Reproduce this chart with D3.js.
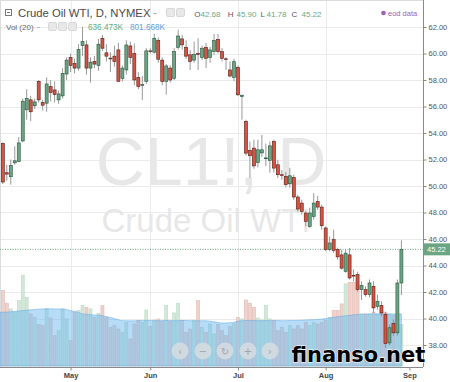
<!DOCTYPE html>
<html>
<head>
<meta charset="utf-8">
<script src="https://cdnjs.cloudflare.com/ajax/libs/d3/7.8.5/d3.min.js"></script>
<style>
  body { margin: 0; background: #fff; }
  svg { display: block; font-family: "Liberation Sans", Arial, sans-serif; }
</style>
</head>
<body>
<div id="chart"></div>
<script>
// daily candles, CL1! Apr - Aug 2015
var opens = [53.2, 51.0, 50.7, 51.75, 51.85, 53.4, 55.75, 56.5, 56.05, 57.9,
  56.3, 56.25, 57.5, 57.25, 56.5, 56.8, 58.45, 59.7, 59.25, 58.9,
  60.6, 60.65, 58.9, 59.4, 59.1, 61.15, 60.05, 59.65, 59.8, 60.27,
  58.13, 58.76, 60.57, 60.0, 58.2, 57.6, 57.9, 60.2, 60.1, 61.0,
  59.5, 57.9, 58.9, 58.13, 60.47, 61.1, 60.47, 59.9, 59.5, 60.0,
  59.7, 60.47, 59.7, 60.14, 61.07, 60.14, 59.6, 58.76, 58.2, 58.94,
  56.75, 54.87, 52.68, 52.86, 51.77, 52.5, 52.1, 51.93, 53.36, 51.6,
  50.85, 50.72, 50.17, 50.64, 49.17, 48.71, 47.96, 46.95, 47.7, 48.83,
  48.41, 46.83, 45.2, 45.95, 45.2, 44.8, 43.56, 44.8, 43.26, 43.31,
  42.18, 42.18, 41.8, 42.43, 40.92, 40.97, 40.3, 38.16, 39.62, 38.92,
  42.68];
var highs = [53.3, 51.6, 52.0, 53.0, 53.7, 56.6, 57.3, 56.8, 56.6, 58.0,
  56.5, 58.2, 58.0, 57.9, 57.2, 58.9, 59.7, 60.0, 59.6, 60.7,
  62.0, 61.0, 59.7, 59.8, 61.1, 61.4, 60.7, 60.1, 60.6, 60.8,
  59.1, 61.0, 60.9, 60.75, 58.6, 58.3, 60.4, 60.4, 61.5, 61.2,
  59.7, 59.2, 59.1, 60.4, 61.8, 61.4, 61.0, 60.27, 60.9, 61.15,
  60.6, 60.8, 60.5, 61.47, 61.47, 60.4, 59.7, 59.4, 59.6, 59.1,
  56.9, 55.0, 53.36, 53.5, 53.5, 53.86, 53.2, 53.36, 53.5, 51.98,
  51.2, 51.07, 51.37, 50.85, 49.34, 48.96, 48.1, 48.36, 49.47, 49.26,
  48.59, 46.95, 46.2, 46.7, 45.35, 45.2, 45.2, 45.32, 43.7, 43.54,
  42.8, 42.43, 42.94, 42.8, 41.8, 41.3, 40.52, 39.54, 39.92, 42.94,
  45.9];
var lows = [50.15, 50.4, 50.1, 51.6, 51.8, 53.3, 55.0, 54.9, 55.8, 56.3,
  55.7, 55.6, 56.4, 56.3, 56.2, 56.6, 58.0, 58.6, 58.5, 58.7,
  59.8, 58.4, 57.8, 58.9, 58.7, 60.2, 59.4, 58.6, 59.0, 57.9,
  57.9, 58.4, 59.2, 57.6, 57.3, 56.5, 57.7, 60.0, 60.0, 59.3,
  57.6, 56.9, 57.8, 58.0, 60.3, 60.3, 59.6, 58.76, 59.3, 58.76,
  59.5, 58.9, 59.3, 59.9, 60.0, 59.4, 58.76, 58.2, 57.9, 56.8,
  55.0, 52.3, 50.6, 51.3, 51.4, 52.2, 51.5, 51.0, 51.0, 50.6,
  50.47, 49.9, 49.87, 48.96, 48.06, 47.83, 46.95, 46.85, 47.46, 48.2,
  46.7, 45.07, 45.07, 44.95, 44.44, 43.7, 43.46, 42.94, 42.8, 42.03,
  41.4, 41.65, 41.6, 40.43, 40.67, 40.17, 37.79, 37.96, 38.7, 38.7,
  41.78];
var closes = [50.3, 50.9, 51.55, 51.9, 53.25, 56.4, 56.6, 55.6, 56.35, 56.5,
  56.1, 57.7, 57.05, 56.9, 56.95, 58.5, 59.5, 59.1, 58.9, 60.3,
  60.9, 58.9, 59.35, 59.2, 60.7, 60.4, 59.8, 59.6, 59.4, 57.9,
  58.9, 60.64, 59.7, 58.0, 57.5, 57.65, 60.2, 60.15, 61.15, 59.57,
  57.9, 59.06, 58.0, 60.14, 61.32, 60.65, 59.8, 59.4, 59.94, 59.94,
  60.4, 59.64, 60.27, 60.97, 60.14, 59.64, 59.55, 58.3, 59.38, 56.88,
  56.85, 52.48, 52.28, 51.52, 52.73, 52.73, 52.12, 53.03, 51.35, 50.85,
  50.8, 50.1, 50.77, 49.17, 48.26, 48.08, 47.33, 47.96, 48.71, 48.41,
  47.0, 45.2, 45.7, 45.14, 44.65, 43.8, 44.93, 43.06, 43.22, 42.18,
  42.48, 41.8, 42.68, 40.8, 41.3, 40.42, 38.11, 39.3, 38.92, 42.68,
  45.22];
// volume in thousands, and its 20-day average
var volumes = [1160, 966, 878, 832, 1006, 1391, 1058, 801, 750, 636,
  621, 878, 739, 467, 544, 878, 724, 390, 832, 852,
  929, 904, 878, 750, 812, 929, 750, 596, 621, 570,
  519, 673, 416, 647, 698, 673, 862, 605, 708, 724,
  688, 929, 688, 816, 966, 698, 519, 570, 698, 1006,
  596, 519, 647, 493, 636, 544, 467, 605, 650, 750,
  724, 1016, 966, 904, 739, 708, 929, 724, 698, 544,
  596, 519, 621, 570, 621, 570, 673, 621, 673, 647,
  673, 698, 750, 852, 852, 955, 1263, 1289, 1289, 1186,
  801, 801, 801, 827, 801, 852, 827, 801, 775, 724,
  636];
var volumeMA = [827, 830, 835, 840, 845, 852, 858, 865, 870, 875,
  878, 880, 880, 878, 878, 876, 870, 852, 840, 825,
  801, 796, 790, 785, 780, 775, 760, 745, 730, 712,
  698, 698, 695, 695, 698, 700, 702, 700, 698, 698,
  700, 702, 700, 698, 698, 700, 700, 698, 695, 695,
  698, 695, 690, 680, 670, 662, 662, 665, 675, 690,
  698, 700, 702, 700, 698, 698, 700, 698, 698, 700,
  698, 698, 700, 700, 702, 705, 708, 710, 712, 716,
  722, 730, 740, 750, 758, 765, 772, 780, 788, 793,
  796, 798, 800, 801, 801, 800, 800, 800, 801, 801,
  802];
var monthLabels = ["May", "Jun", "Jul", "Aug", "Sep"];
var monthStart = [17, 37, 59, 81, 102];   // bar index of first trading day
var priceTicks = [38, 40, 42, 44, 46, 48, 50, 52, 54, 56, 58, 60, 62];
var lastPrice = 45.22;

var width = 450, height = 382,
    plotRight = 423, plotBottom = 367;

var upFill = "#6ba583", upLine = "#225437",
    downFill = "#d75442", downLine = "#5b1a13";

var svg = d3.select("#chart")
  .append("svg")
    .attr("width", width)
    .attr("height", height);

var x = d3.scaleLinear()
  .domain([0, 100])
  .range([2.8, 401.4]);

var y = d3.scaleLinear()
  .domain([38, 62])
  .range([345, 27]);

var vy = d3.scaleLinear()
  .domain([0, 1000])
  .range([366, 301]);

// grid
svg.append("g")
  .selectAll("line")
  .data(priceTicks)
  .enter().append("line")
    .attr("x1", 0).attr("x2", plotRight)
    .attr("y1", function(d) { return Math.round(y(d)) + 0.5 })
    .attr("y2", function(d) { return Math.round(y(d)) + 0.5 })
    .attr("stroke", "#ebebeb");

svg.append("g")
  .selectAll("line")
  .data(monthStart.slice(0, 4))
  .enter().append("line")
    .attr("x1", function(d) { return Math.round(x(d)) + 0.5 })
    .attr("x2", function(d) { return Math.round(x(d)) + 0.5 })
    .attr("y1", 0).attr("y2", plotBottom)
    .attr("stroke", "#ebebeb");

// border lines
svg.append("line").attr("x1", 0).attr("x2", plotRight).attr("y1", 0.5).attr("y2", 0.5).attr("stroke", "#dcdcdc");
svg.append("line").attr("x1", 0.5).attr("x2", 0.5).attr("y1", 0).attr("y2", plotBottom).attr("stroke", "#dcdcdc");

// watermark
svg.append("text")
  .attr("x", 211).attr("y", 185)
  .attr("text-anchor", "middle")
  .attr("font-size", 68)
  .attr("fill", "#e7e7e7")
  .text("CL1!, D");
svg.append("text")
  .attr("x", 206).attr("y", 232)
  .attr("text-anchor", "middle")
  .attr("font-size", 33)
  .attr("fill", "#e7e7e7")
  .text("Crude Oil WTI");

var idx = d3.range(opens.length);

// volume bars
svg.append("g")
  .selectAll("rect")
  .data(idx)
  .enter().append("rect")
    .attr("x", function(i) { return x(i) - 1.5 })
    .attr("width", 3)
    .attr("y", function(i) { return vy(volumes[i]) })
    .attr("height", function(i) { return vy(0) - vy(volumes[i]) })
    .attr("fill", function(i) { return closes[i] >= opens[i] ? "#d3e8d8" : "#f0d2cd" })
    .attr("stroke", function(i) { return closes[i] >= opens[i] ? "#b9d9c1" : "#e3b8b1" })
    .attr("stroke-width", 0.6);

// volume moving average
svg.append("path")
  .datum(idx)
  .attr("fill", "rgba(110,185,240,0.5)")
  .attr("stroke", "rgba(90,165,230,0.6)")
  .attr("stroke-width", 0.8)
  .attr("d", d3.area()
    .x(function(i) { return i === 0 ? 0 : x(i) })
    .y0(vy(0))
    .y1(function(i) { return vy(volumeMA[i]) })
    .curve(d3.curveMonotoneX));

// last price line
svg.append("line")
  .attr("x1", 0).attr("x2", plotRight)
  .attr("y1", y(lastPrice)).attr("y2", y(lastPrice))
  .attr("stroke", upFill)
  .attr("stroke-dasharray", "1,1.5");

// candles
var candles = svg.append("g")
  .selectAll("g")
  .data(idx)
  .enter().append("g");

candles.append("line")
  .attr("x1", function(i) { return x(i) })
  .attr("x2", function(i) { return x(i) })
  .attr("y1", function(i) { return y(highs[i]) })
  .attr("y2", function(i) { return y(lows[i]) })
  .attr("stroke", "#8c8c8c")
  .attr("stroke-width", 0.9);

candles.append("rect")
  .attr("x", function(i) { return x(i) - 1.5 })
  .attr("width", 3)
  .attr("y", function(i) { return y(Math.max(opens[i], closes[i])) })
  .attr("height", function(i) { return Math.max(0.8, Math.abs(y(opens[i]) - y(closes[i]))) })
  .attr("fill", function(i) { return closes[i] >= opens[i] ? upFill : downFill })
  .attr("stroke", function(i) { return closes[i] >= opens[i] ? upLine : downLine })
  .attr("stroke-width", 0.6);

// right price axis
var yAxis = svg.append("g")
  .attr("transform", "translate(" + (plotRight + 0.5) + ",0)")
  .call(d3.axisRight(y).tickValues(priceTicks).tickFormat(d3.format(".2f")).tickSize(3).tickPadding(2));
yAxis.select(".domain").attr("stroke", "#8a8a8a").attr("d", "M0,0V" + plotBottom);
yAxis.selectAll(".tick line").attr("stroke", "#8a8a8a");
yAxis.selectAll(".tick text").attr("fill", "#555").attr("font-size", 7.5).attr("font-family", "Liberation Sans, Arial, sans-serif");

// last price label
svg.append("rect")
  .attr("x", plotRight + 1).attr("y", y(lastPrice) - 6)
  .attr("width", width - plotRight - 1).attr("height", 12)
  .attr("fill", upFill);
svg.append("text")
  .attr("x", plotRight + 4).attr("y", y(lastPrice) + 2.8)
  .attr("font-size", 7.5).attr("fill", "#fff")
  .text(d3.format(".2f")(lastPrice));

// bottom time axis
var xAxis = svg.append("g")
  .attr("transform", "translate(0," + (plotBottom + 0.5) + ")")
  .call(d3.axisBottom(x).tickValues(monthStart)
    .tickFormat(function(d, k) { return monthLabels[k] })
    .tickSize(3).tickPadding(2));
xAxis.select(".domain").attr("stroke", "#8a8a8a").attr("d", "M0,0H" + plotRight);
xAxis.selectAll(".tick line").attr("stroke", "#8a8a8a");
xAxis.selectAll(".tick text").attr("fill", "#444").attr("font-size", 7.5).attr("font-weight", "bold")
  .attr("font-family", "Liberation Sans, Arial, sans-serif");

// navigation buttons
var navX = [180, 203, 225, 248, 270],
    navGlyph = ["\u2039", "\u2212", "\u21bb", "+", "\u203a"];
var nav = svg.append("g").selectAll("g").data(navX).enter().append("g");
nav.append("circle")
  .attr("cx", function(d) { return d }).attr("cy", 351).attr("r", 8.5)
  .attr("fill", "rgba(225,225,225,0.7)");
nav.append("text")
  .attr("x", function(d) { return d }).attr("y", 354.5)
  .attr("text-anchor", "middle")
  .attr("font-family", "DejaVu Sans, sans-serif")
  .attr("font-size", 10).attr("fill", "#a5a5a5")
  .text(function(d, k) { return navGlyph[k] });

// header row 1
svg.append("rect").attr("x", 5.5).attr("y", 9.5).attr("width", 6).attr("height", 6)
  .attr("fill", "none").attr("stroke", "#777");
svg.append("line").attr("x1", 7).attr("x2", 10).attr("y1", 12.5).attr("y2", 12.5).attr("stroke", "#777");
svg.append("text").attr("x", 18).attr("y", 17.3)
  .attr("font-size", 11.3).attr("fill", "#4a4a4a")
  .text("Crude Oil WTI, D, NYMEX");
svg.append("line").attr("x1", 153).attr("x2", 157).attr("y1", 13.5).attr("y2", 13.5).attr("stroke", "#bbb");
[166.5, 176.5].forEach(function(px) {
  svg.append("rect").attr("x", px).attr("y", 8.5).attr("width", 8).attr("height", 8).attr("rx", 1.5)
    .attr("fill", "#e8e8e8").attr("stroke", "#d8d8d8");
});
var ohlc = [["O", 194.3, "42.68", 200.5], ["H", 227.7, "45.90", 236.5],
            ["L", 260.5, "41.78", 266.5], ["C", 291.5, "45.22", 301.5]];
ohlc.forEach(function(d) {
  svg.append("text").attr("x", d[1]).attr("y", 16.7).attr("font-size", 8).attr("fill", "#555").text(d[0]);
  svg.append("text").attr("x", d[3]).attr("y", 16.7).attr("font-size", 8).attr("fill", "#6aa886").text(d[2]);
});
svg.append("circle").attr("cx", 383.5).attr("cy", 13).attr("r", 2.3).attr("fill", "#a35bb4");
svg.append("text").attr("x", 388).attr("y", 15.5).attr("font-size", 7.5).attr("fill", "#a35bb4").text("eod data");

// header row 2
svg.append("text").attr("x", 6).attr("y", 30).attr("font-size", 8).attr("fill", "#666").text("Vol (20)");
svg.append("line").attr("x1", 37).attr("x2", 40).attr("y1", 27.5).attr("y2", 27.5).attr("stroke", "#bbb");
[48.5, 58.5, 68.5].forEach(function(px) {
  svg.append("rect").attr("x", px).attr("y", 22.5).attr("width", 8).attr("height", 8).attr("rx", 1.5)
    .attr("fill", "#e8e8e8").attr("stroke", "#d8d8d8");
});
svg.append("text").attr("x", 88).attr("y", 30).attr("font-size", 8.2).attr("fill", "#5cab85").text("636.473K");
svg.append("text").attr("x", 130).attr("y", 30).attr("font-size", 8.2).attr("fill", "#5aa0dc").text("801.668K");

// site mark
svg.append("text")
  .attr("x", 291.5).attr("y", 362)
  .attr("font-family", "DejaVu Sans, sans-serif")
  .attr("font-weight", "bold")
  .attr("font-size", 21)
  .attr("fill", "#000")
  .attr("stroke", "#fff").attr("stroke-width", 1.2).attr("paint-order", "stroke")
  .text("finanso.net");
</script>
</body>
</html>
